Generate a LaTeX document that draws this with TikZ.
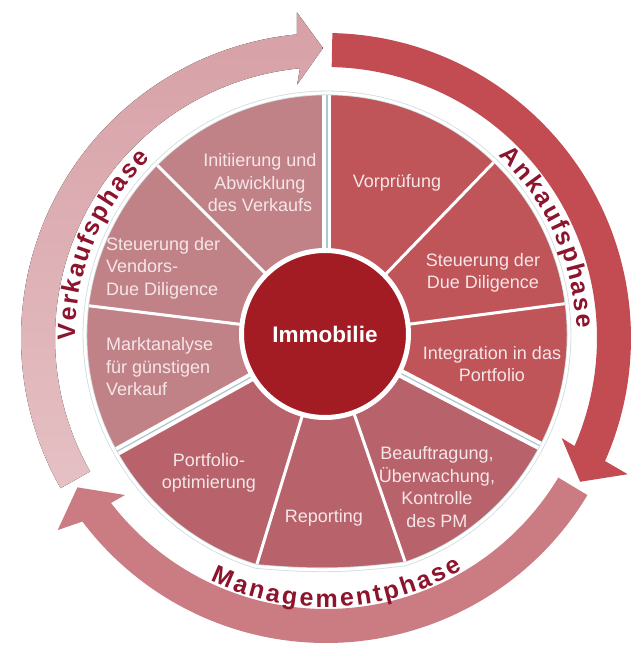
\documentclass[tikz,border=0pt]{standalone}
\usepackage{fontspec}
\setmainfont{Liberation Sans}
\usetikzlibrary{decorations.text}
\definecolor{ankauf}{RGB}{194,76,82}
\definecolor{verkaufTop}{RGB}{214,160,166}
\definecolor{verkaufBot}{RGB}{229,192,196}
\definecolor{mgmt}{RGB}{203,124,130}
\definecolor{segA}{RGB}{191,84,89}
\definecolor{segM}{RGB}{184,99,107}
\definecolor{segV}{RGB}{192,130,135}
\definecolor{core}{RGB}{163,27,35}
\definecolor{segtext}{RGB}{246,230,232}
\definecolor{phasetext}{RGB}{140,20,45}
\definecolor{sepline}{RGB}{178,196,200}
\newcommand\phasefont{\fontsize{25pt}{30pt}\selectfont\bfseries}
\tikzset{
  segtxt/.style={text=segtext, font=\fontsize{18pt}{22.5pt}\selectfont, align=center, inner sep=0pt},
  segtxtl/.style={segtxt, align=left, anchor=west},
  spoke/.style={white, line width=3pt},
  phasespoke/.style={white, line width=9pt},
  phaseline/.style={sepline, line width=1.2pt},
  phaselabel/.style={decorate, decoration={text along path, text align={fit to path}, text color=phasetext, text={|\phasefont|#1}}}
}
\begin{document}
\begin{tikzpicture}[x=1pt,y=1pt]
\useasboundingbox (-326pt,-311pt) rectangle (316pt,338pt);
\fill[white] (-326pt,-311pt) rectangle (316pt,338pt);

% outer phase arrows
\fill[mgmt] (-31:305pt) arc[start angle=-31, end angle=-143, radius=305pt]
  -- (-144.4:330pt) -- (-149:290pt) -- (-142:255pt) -- (-142.5:271pt)
  arc[start angle=-142.5, end angle=-31, radius=271pt] -- cycle;
\fill[top color=verkaufTop, bottom color=verkaufBot] (209.5:271pt) arc[start angle=209.5, end angle=95.5, radius=271pt]
  -- (96.5:255pt) -- (90.6:290pt) -- (95.1:327pt) -- (95.5:305pt)
  arc[start angle=95.5, end angle=209.5, radius=305pt] -- cycle;
\fill[ankauf] (88.8:305pt) arc[start angle=88.8, end angle=-23.8, radius=305pt]
  -- (-24.3:331pt) -- (-29.5:292pt) -- (-23:256pt) -- (-23.5:271pt)
  arc[start angle=-23.5, end angle=88.8, radius=271pt] -- cycle;

% wheel
\coordinate (W) at (1pt,3pt);
\coordinate (rl) at ([shift={(W)}]-107:242pt);
\coordinate (rr) at ([shift={(W)}]-71:242pt);
\foreach \a/\b/\c in {46/90/segA, 7.5/46/segA, -27.5/7.5/segA,
                      -71/-27.5/segM, -151/-107/segM,
                      173/209/segV, 135/173/segV, 90/135/segV}
  \fill[\c] (W) -- ++(\a:242pt)
     arc[start angle=\a, end angle=\b, radius=242pt] -- cycle;
\fill[segM] (W) -- (rl) to[bend right=6] (rr) -- cycle;
\foreach \a in {46, 7.5, -71, -107, 173, 135}
  \draw[spoke] (W) -- ++(\a:242pt);
\foreach \a in {90, -27.5, -151}{
  \draw[phasespoke] (W) -- ++(\a:242pt);
  \draw[phaseline] (W) -- ++(\a:242pt);
}
\draw[sepline!60, line width=4.6pt] (rr) arc[start angle=-71, end angle=253, radius=242pt] to[bend right=6] (rr);
\draw[white, line width=3pt] (rr) arc[start angle=-71, end angle=253, radius=242pt] to[bend right=6] (rr);

% centre
\node[circle, fill=core, draw=white, line width=5pt, minimum size=167pt, inner sep=0pt,
      text=white, font=\fontsize{22.5pt}{27pt}\selectfont\bfseries] (core) at (-1pt,4pt) {Immobilie};

% segment texts
\node[segtxt] (s1) at (71pt,155pt) {Vorprüfung};
\node[segtxt] (s2) at (157pt,65pt) {Steuerung der\\Due Diligence};
\node[segtxt] (s3) at (166pt,-26pt) {Integration in das\\Portfolio};
\node[segtxt] (s4) at (111pt,-149pt) {Beauftragung,\\Überwachung,\\Kontrolle\\des PM};
\node[segtxt] (s5) at (-2pt,-180pt) {Reporting};
\node[segtxt] (s6) at (-117pt,-135pt) {Portfolio-\\optimierung};
\node[segtxtl] (s7) at (-220pt,-29pt) {Marktanalyse\\für günstigen\\Verkauf};
\node[segtxtl] (s8) at (-220pt,70pt) {Steuerung der\\Vendors-\\Due Diligence};
\node[segtxt] (s9) at (-66pt,155pt) {Initiierung und\\Abwicklung\\des Verkaufs};

% phase labels
\path[phaselabel=Ankaufsphase] (46.5:251pt) arc[start angle=46.5, end angle=2.2, radius=251pt];
\path[phaselabel=Verkaufsphase] (180.5:251pt) arc[start angle=180.5, end angle=134.5, radius=251pt];
\path[phaselabel=Managementphase] (-115.5:269pt) arc[start angle=-115.5, end angle=-59.5, radius=269pt];
\end{tikzpicture}
\end{document}
